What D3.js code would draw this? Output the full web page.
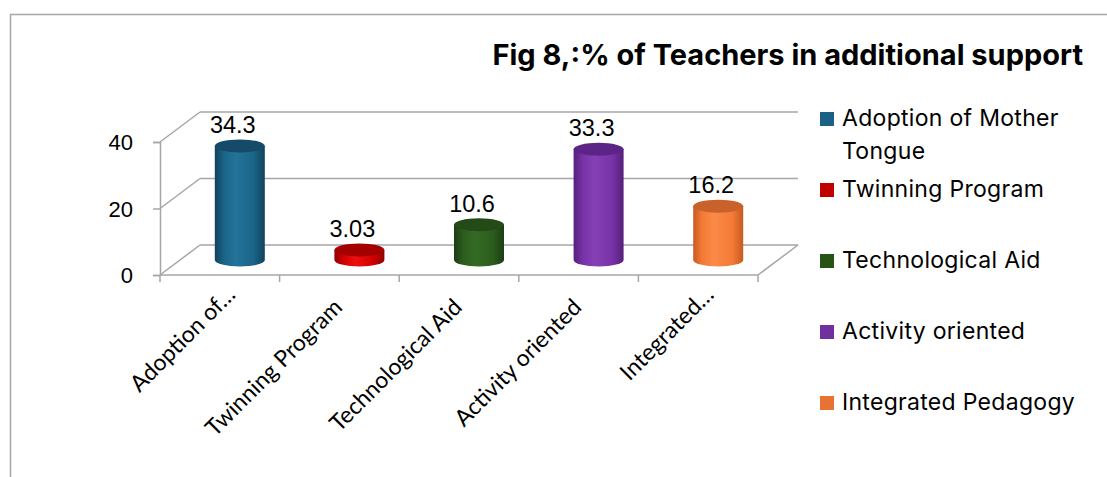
<!DOCTYPE html>
<html><head><meta charset="utf-8">
<script src="https://cdn.jsdelivr.net/npm/d3@7"></script>
<style>html,body{margin:0;padding:0;background:#fff;} svg{display:block;}</style>
</head><body>
<svg id="chart" width="1107" height="477"></svg>
<script>
const categories = ["Adoption of Mother Tongue","Twinning Program","Technological Aid","Activity oriented","Integrated Pedagogy"];
const axisLabels = ["Adoption of…","Twinning Program","Technological Aid","Activity oriented","Integrated…"];
const values = [34.3, 3.03, 10.6, 33.3, 16.2];
const valueLabels = ["34.3","3.03","10.6","33.3","16.2"];
const yTicks = [0, 20, 40];
const legendLines = [["Adoption of Mother","Tongue"],["Twinning Program"],["Technological Aid"],["Activity oriented"],["Integrated Pedagogy"]];
const title = "Fig 8,:% of Teachers in additional support";
const colors = [
  {side:"#1b6487", light:"#23739a", dark:"#10425c", top:"#154b68", legend:"#1b6185"},
  {side:"#d00000", light:"#ee1010", dark:"#8e0000", top:"#a40000", legend:"#c00000"},
  {side:"#2c5c1e", light:"#346b24", dark:"#1b3d12", top:"#234a17", legend:"#275317"},
  {side:"#7632a6", light:"#8540b6", dark:"#55207a", top:"#5c2486", legend:"#7030a0"},
  {side:"#f47a36", light:"#fb8a48", dark:"#c65a20", top:"#c9612a", legend:"#e97132"}
];

const svg = d3.select("#chart");
const W = 1107, H = 477;
const gridColor = "#a6a6a6";
const DX = 40, DY = -30;

svg.append("path").attr("d", `M10.5,${H} L10.5,14.5 L${W},14.5`).attr("fill","none").attr("stroke","#a6a6a6").attr("stroke-width",1.5);

const x = d3.scaleBand().domain(categories).range([160, 758]).padding(0);
const y = d3.scaleLinear().domain([0, 40]).range([275, 142]);

const g = svg.append("g");
yTicks.forEach(t => {
  const yy = y(t);
  g.append("line").attr("x1",160).attr("y1",yy).attr("x2",160+DX).attr("y2",yy+DY).attr("stroke",gridColor).attr("stroke-width",1.5);
  g.append("line").attr("x1",160+DX).attr("y1",yy+DY).attr("x2",758+DX).attr("y2",yy+DY).attr("stroke",gridColor).attr("stroke-width",1.5);
});
g.append("line").attr("x1",758).attr("y1",y(0)).attr("x2",758+DX).attr("y2",y(0)+DY).attr("stroke",gridColor).attr("stroke-width",1.5);
const yAxis = d3.axisLeft(y).tickValues(yTicks).tickSize(7).tickPadding(20);
const ya = g.append("g").attr("transform","translate(160,0)").call(yAxis);
ya.select(".domain").attr("stroke",gridColor).attr("stroke-width",1.5);
ya.selectAll(".tick line").attr("stroke",gridColor).attr("stroke-width",1.5);
ya.selectAll(".tick text").attr("font-family","'Liberation Sans', Arial, sans-serif").attr("font-size",22).attr("fill","#000").attr("dy","0.36em");
const xAxis = d3.axisBottom(x).tickSize(0).tickFormat("");
const xa = g.append("g").attr("transform",`translate(0,${y(0)})`).call(xAxis);
xa.select(".domain").attr("stroke",gridColor).attr("stroke-width",1.5).attr("d","M160,0H758");
const bounds = categories.map(c => x(c)).concat([x(categories[categories.length-1]) + x.bandwidth()]);
bounds.forEach(b => xa.append("line").attr("x1",b).attr("x2",b).attr("y1",0).attr("y2",7).attr("stroke",gridColor).attr("stroke-width",1.5));
categories.forEach((c,i) => {
  const cx = x(c) + x.bandwidth()/2;
  const truncated = axisLabels[i].endsWith("…");
  g.append("text").attr("transform",`translate(${cx+17},${y(0)+21}) rotate(-45)`)
    .attr("text-anchor","end").attr("dx", truncated ? 0 : -18)
    .attr("font-family","Lato, 'Open Sans', sans-serif").attr("font-size",23).attr("fill","#000")
    .text(axisLabels[i]);
});

const defs = svg.append("defs");
const rx = 25, ry = 6.5;
categories.forEach((c,i) => {
  const col = colors[i];
  const gid = "grad"+i;
  const lg = defs.append("linearGradient").attr("id",gid).attr("x1","0%").attr("x2","100%").attr("y1","0%").attr("y2","0%");
  lg.append("stop").attr("offset","0%").attr("stop-color",col.dark);
  lg.append("stop").attr("offset","18%").attr("stop-color",col.side);
  lg.append("stop").attr("offset","42%").attr("stop-color",col.light);
  lg.append("stop").attr("offset","78%").attr("stop-color",col.side);
  lg.append("stop").attr("offset","100%").attr("stop-color",col.dark);
  const cx = x(c) + x.bandwidth()/2 + DX/2;
  const yb = y(0) + DY/2;
  const yt = y(values[i]) + DY/2;
  g.append("path").attr("d",
    `M${cx-rx},${yt} L${cx-rx},${yb} A${rx},${ry} 0 0 0 ${cx+rx},${yb} L${cx+rx},${yt} Z`)
    .attr("fill",`url(#${gid})`);
  g.append("ellipse").attr("cx",cx).attr("cy",yt).attr("rx",rx).attr("ry",ry).attr("fill",col.top);
  g.append("text").attr("x",cx-7).attr("y",yt-13).attr("text-anchor","middle")
    .attr("font-family","'Liberation Sans', Arial, sans-serif").attr("font-size",23.5).attr("fill","#000")
    .text(valueLabels[i]);
});

svg.append("text").attr("x",1083).attr("y",65).attr("text-anchor","end")
  .attr("font-family","Inter, 'Open Sans', sans-serif").attr("font-weight",700).attr("font-size",29).attr("fill","#000")
  .text(title);

const lg = svg.append("g");
legendLines.forEach((lines,i) => {
  const top = 112 + i*71;
  lg.append("rect").attr("x",820).attr("y",top).attr("width",14).attr("height",14).attr("fill",colors[i].legend);
  lines.forEach((ln,j) => {
    lg.append("text").attr("x",842).attr("y",top+14+j*33)
      .attr("font-family","Inter, 'Open Sans', sans-serif").attr("font-size",23).attr("letter-spacing",0.3).attr("fill","#000").text(ln);
  });
});
</script>
</body></html>
